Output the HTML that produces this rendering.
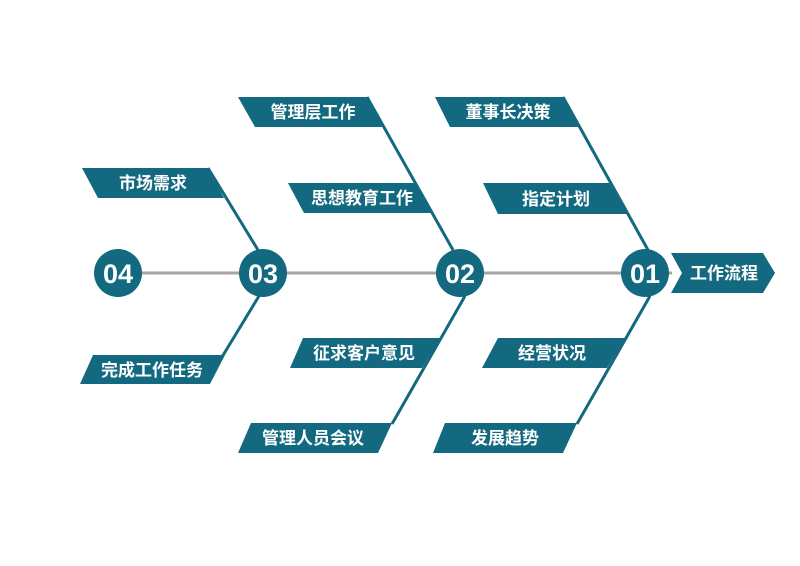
<!DOCTYPE html>
<html><head><meta charset="utf-8"><style>
html,body{margin:0;padding:0;background:#fff;}
svg{display:block;}
text{font-family:"Liberation Sans","Noto Sans CJK SC",sans-serif;font-weight:bold;fill:#fff;}
</style></head><body>
<svg width="800" height="566" viewBox="0 0 800 566" xmlns="http://www.w3.org/2000/svg">
<line x1="118" y1="273" x2="672" y2="273" stroke="#a6a6a6" stroke-width="3"/>
<g stroke="#13697f" stroke-width="3">
<line x1="208" y1="168" x2="258" y2="250"/>
<line x1="259" y1="296" x2="222" y2="357"/>
<line x1="367" y1="97" x2="453" y2="250"/>
<line x1="465" y1="296" x2="392" y2="424"/>
<line x1="563" y1="97" x2="648" y2="250"/>
<line x1="650" y1="296" x2="577" y2="424"/>
</g>
<g fill="#13697f">
<polygon points="82,168 208,168 224,198 98,198"/>
<polygon points="93,355 225,355 210,384 80,384"/>
<polygon points="238,97 367,97 383,127 255,127"/>
<polygon points="288,183 414,183 432,213 304,213"/>
<polygon points="303,338 440,338 422,368 290,368"/>
<polygon points="251,423 392,423 378,453 238,453"/>
<polygon points="435,97 563,97 578,127 450,127"/>
<polygon points="483,183 610,183 627,214 498,214"/>
<polygon points="498,338 625,338 607,368 482,368"/>
<polygon points="445,423 577,423 563,453 433,453"/>
<polygon points="671,253 763,253 775,273 763,293 671,293 682,273"/>
<circle cx="118" cy="273" r="24"/>
<circle cx="263" cy="273" r="24"/>
<circle cx="460" cy="273" r="24"/>
<circle cx="645" cy="273" r="24"/>
</g>
<g font-size="17" text-anchor="middle">
<text x="153" y="189">市场需求</text>
<text x="152" y="376">完成工作任务</text>
<text x="313" y="118">管理层工作</text>
<text x="362" y="204">思想教育工作</text>
<text x="364" y="359">征求客户意见</text>
<text x="313" y="444">管理人员会议</text>
<text x="508" y="118">董事长决策</text>
<text x="556" y="205">指定计划</text>
<text x="552" y="359">经营状况</text>
<text x="505" y="444">发展趋势</text>
<text x="724" y="279">工作流程</text>
</g>
<g font-size="27" text-anchor="middle" style="font-family:'DejaVu Sans',sans-serif">
<text x="118" y="283">04</text>
<text x="263" y="283">03</text>
<text x="460" y="283">02</text>
<text x="645" y="283">01</text>
</g>
</svg>
</body></html>
